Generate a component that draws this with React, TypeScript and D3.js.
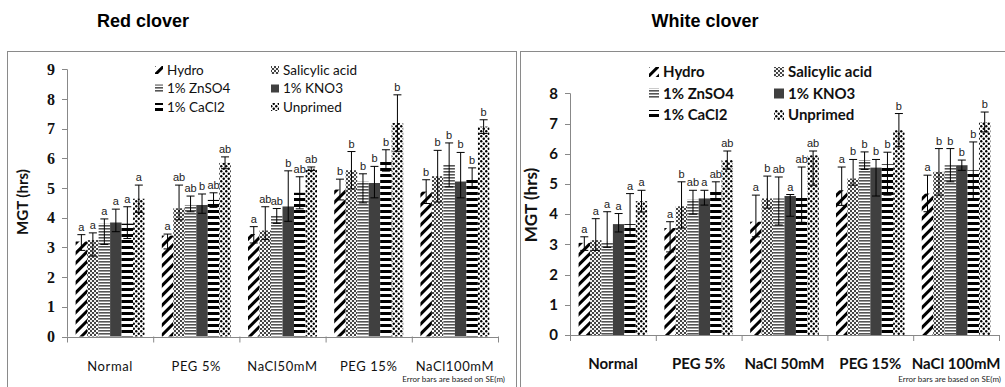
import React from "react";
import * as d3 from "d3";

const series = ["Hydro", "Salicylic acid", "1% ZnSO4", "1% KNO3", "1% CaCl2", "Unprimed"];
const patternIds = ["p-hydro", "p-sal", "p-zn", "p-kno3", "p-cacl2", "p-unp"];

// Red clover
const redCategories = ["Normal", "PEG 5%", "NaCl50mM", "PEG 15%", "NaCl100mM"];
const redHydro = [3.2, 3.4, 3.45, 4.95, 4.88];
const redSal = [3.25, 4.32, 3.57, 5.6, 5.4];
const redZn = [3.8, 4.43, 4.06, 5.22, 5.78];
const redKno3 = [3.84, 4.43, 4.38, 5.17, 5.22];
const redCacl2 = [3.8, 4.6, 4.84, 5.93, 5.35];
const redUnp = [4.64, 5.85, 5.65, 7.19, 7.07];
const redErrPlus = [
  [0.23, 0.05, 0.25, 0.35, 0.4],
  [0.24, 0.78, 0.8, 0.63, 0.87],
  [0.16, 0.3, 0.25, 0.26, 0.74],
  [0.45, 0.37, 1.2, 0.56, 0.98],
  [0.57, 0.24, 0.54, 0.36, 0.33],
  [0.46, 0.2, 0.06, 0.95, 0.23],
];
const redErrMinus = [
  [0.3, 0.45, 0.3, 0.35, 0.4],
  [0.54, 0.39, 0.3, 0.63, 0.87],
  [0.7, 0.23, 0.25, 0.72, 0.74],
  [0.31, 0.28, 0.5, 0.5, 0.55],
  [0.5, 0.25, 0.54, 0.36, 0.33],
  [0.46, 0.2, 0.06, 0.95, 0.23],
];
const redLetters = [
  ["a", "a", "a", "b", "b"],
  ["a", "ab", "ab", "b", "b"],
  ["a", "ab", "ab", "b", "b"],
  ["a", "b", "b", "b", "b"],
  ["a", "ab", "ab", "b", "b"],
  ["a", "ab", "ab", "b", "b"],
];
const redTicks = [0, 1, 2, 3, 4, 5, 6, 7, 8, 9];

// White clover
const whiteCategories = ["Normal", "PEG 5%", "NaCl 50mM", "PEG 15%", "NaCl 100mM"];
const whiteHydro = [3.05, 3.54, 3.75, 4.79, 4.68];
const whiteSal = [3.14, 4.26, 4.52, 5.18, 5.4];
const whiteZn = [3.08, 4.48, 4.52, 5.79, 5.62];
const whiteKno3 = [3.67, 4.52, 4.6, 5.54, 5.62];
const whiteCacl2 = [3.67, 4.76, 4.63, 5.65, 5.45];
const whiteUnp = [4.43, 5.79, 5.95, 6.78, 7.05];
const whiteErrPlus = [
  [0.2, 0.21, 0.88, 0.77, 0.61],
  [0.71, 0.81, 0.74, 0.63, 0.77],
  [1.0, 0.31, 0.71, 0.27, 0.55],
  [0.35, 0.27, 0.05, 0.27, 0.17],
  [1.01, 0.31, 0.93, 0.4, 0.94],
  [0.36, 0.3, 0.14, 0.55, 0.33],
];
const whiteErrMinus = [
  [0.25, 0.79, 0.5, 0.5, 0.6],
  [0.34, 0.72, 0.32, 0.22, 0.77],
  [0.18, 0.48, 0.88, 0.31, 0.55],
  [0.26, 0.22, 0.67, 0.94, 0.17],
  [0.37, 0.31, 0.9, 1.02, 0.94],
  [0.36, 0.3, 0.99, 0.55, 0.33],
];
const whiteLetters = [
  ["a", "a", "a", "a", "a"],
  ["a", "b", "b", "b", "b"],
  ["a", "ab", "ab", "b", "b"],
  ["a", "a", "a", "b", "b"],
  ["a", "ab", "ab", "b", "b"],
  ["a", "ab", "ab", "b", "b"],
];
const whiteTicks = [0, 1, 2, 3, 4, 5, 6, 7, 8];

const AXIS = "#888";

function Patterns() {
  return (
    <defs>
      <pattern id="p-hydro" width={7} height={7} patternUnits="userSpaceOnUse" patternTransform="rotate(45)">
        <rect width={7} height={7} fill="#fff" />
        <rect x={0} y={0} width={3} height={7} fill="#000" />
      </pattern>
      <pattern id="p-sal" width={4} height={4} patternUnits="userSpaceOnUse">
        <rect width={4} height={4} fill="#fff" />
        <rect x={0} y={0} width={2} height={2} fill="#444" />
        <rect x={2} y={2} width={2} height={2} fill="#444" />
        <rect x={2.5} y={0.5} width={1} height={1} fill="#aaa" />
      </pattern>
      <pattern id="p-zn" width={4} height={3} patternUnits="userSpaceOnUse">
        <rect width={4} height={3} fill="#fff" />
        <rect x={0} y={0} width={4} height={1.6} fill="#555" />
      </pattern>
      <pattern id="p-kno3" width={4} height={4} patternUnits="userSpaceOnUse">
        <rect width={4} height={4} fill="#404040" />
      </pattern>
      <pattern id="p-cacl2" width={4} height={6} patternUnits="userSpaceOnUse">
        <rect width={4} height={6} fill="#fff" />
        <rect x={0} y={0} width={4} height={3} fill="#000" />
      </pattern>
      <pattern id="p-unp" width={5} height={5} patternUnits="userSpaceOnUse">
        <rect width={5} height={5} fill="#fff" />
        <circle cx={1.25} cy={1.25} r={1.2} fill="#000" />
        <circle cx={3.75} cy={3.75} r={1.2} fill="#000" />
      </pattern>
    </defs>
  );
}

type ChartProps = {
  categories: string[];
  values: number[][];
  errPlus: number[][];
  errMinus: number[][];
  letters: string[][];
  ticks: number[];
  x0: number;
  x1: number;
  yBottom: number;
  yTop: number;
  yMax: number;
  bold: boolean;
  frameX: number;
  frameW: number;
  title: string;
  titleX: number;
  legendX1: number;
  legendX2: number;
  legendY: number;
  legendDy: number;
  legendFont: number;
  legendBox: number;
  yTitleX: number;
  yTitleY: number;
  footX: number;
};

function Chart(p: ChartProps) {
  const x = d3.scaleBand<string>().domain(p.categories).range([p.x0, p.x1]).padding(0);
  const bw = x.bandwidth();
  const xs = d3.scaleBand<string>().domain(series).range([bw * 0.1, bw * 0.9]).padding(0);
  const y = d3.scaleLinear().domain([0, p.yMax]).range([p.yBottom, p.yTop]);
  const sw = xs.bandwidth();
  const tickFont = p.bold ? "Lato, sans-serif" : "'Liberation Serif', serif";
  const catFont = "Lato, sans-serif";
  const legendItems = [
    { i: 0, col: 0, row: 0 },
    { i: 2, col: 0, row: 1 },
    { i: 4, col: 0, row: 2 },
    { i: 1, col: 1, row: 0 },
    { i: 3, col: 1, row: 1 },
    { i: 5, col: 1, row: 2 },
  ];
  const boundaries = p.categories.map((c) => x(c) as number).concat([p.x1]);
  return (
    <g>
      <rect x={p.frameX + 0.5} y={51.5} width={p.frameW} height={360} fill="none" stroke="#8a8a8a" strokeWidth={1} />
      <text x={p.titleX} y={27} textAnchor="middle" fontFamily="Arial, 'Liberation Sans', sans-serif" fontWeight="bold" fontSize={18}>
        {p.title}
      </text>
      {p.values.map((vals, si) =>
        p.categories.map((c, ci) => {
          const v = vals[ci];
          const bx = (x(c) as number) + (xs(series[si]) as number);
          return (
            <rect key={`b${si}-${ci}`} x={bx} y={y(v)} width={sw} height={y(0) - y(v)} fill={`url(#${patternIds[si]})`} />
          );
        })
      )}
      {p.values.map((vals, si) =>
        p.categories.map((c, ci) => {
          const v = vals[ci];
          const cx = (x(c) as number) + (xs(series[si]) as number) + sw / 2;
          const hi = v + p.errPlus[si][ci];
          const lo = v - p.errMinus[si][ci];
          return (
            <g key={`e${si}-${ci}`}>
              <line x1={cx} x2={cx} y1={y(hi)} y2={y(lo)} stroke="#000" strokeWidth={1} />
              <line x1={cx - 4} x2={cx + 4} y1={y(hi)} y2={y(hi)} stroke="#000" strokeWidth={1} />
              <line x1={cx - 4} x2={cx + 4} y1={y(lo)} y2={y(lo)} stroke="#000" strokeWidth={1} />
              <text x={cx} y={y(hi) - 4} textAnchor="middle" fontFamily="Arial, 'Liberation Sans', sans-serif" fontSize={11} fill="#222">
                {p.letters[si][ci]}
              </text>
            </g>
          );
        })
      )}
      <line x1={p.x0 + 0.5} x2={p.x0 + 0.5} y1={y(p.yMax)} y2={y(0)} stroke={AXIS} />
      {p.ticks.map((t) => (
        <g key={`t${t}`}>
          <line x1={p.x0 - 5} x2={p.x0} y1={Math.round(y(t)) + 0.5} y2={Math.round(y(t)) + 0.5} stroke={AXIS} />
          <text
            x={p.x0 - 12}
            y={y(t)}
            dy="0.35em"
            textAnchor="end"
            fontFamily={tickFont}
            fontWeight="bold"
            fontSize={p.bold ? 15 : 16}
            fill="#111"
          >
            {t}
          </text>
        </g>
      ))}
      <line x1={p.x0} x2={p.x1} y1={Math.round(y(0)) + 0.5} y2={Math.round(y(0)) + 0.5} stroke={AXIS} />
      {boundaries.map((bx, i) => (
        <line key={`xt${i}`} x1={bx + 0.5} x2={bx + 0.5} y1={y(0)} y2={y(0) + 6} stroke={AXIS} />
      ))}
      {p.categories.map((c) => (
        <text
          key={`c${c}`}
          x={(x(c) as number) + bw / 2}
          y={y(0) + 34}
          textAnchor="middle"
          fontFamily={catFont}
          fontWeight={p.bold ? "bold" : "normal"}
          fontSize={p.bold ? 15 : 13}
          letterSpacing={p.bold ? 0 : 0.6}
          fill="#111"
        >
          {c}
        </text>
      ))}
      <text x={p.footX} y={382} textAnchor="end" fontFamily={catFont} fontSize={8} fill="#222">
        Error bars are based on SE(m)
      </text>
      <text
        transform={`translate(${p.yTitleX},${p.yTitleY}) rotate(-90)`}
        textAnchor="middle"
        fontFamily={catFont}
        fontWeight="bold"
        fontSize={p.bold ? 17 : 15}
        fill="#111"
      >
        MGT (hrs)
      </text>
      {legendItems.map((it) => {
        const lx = it.col === 0 ? p.legendX1 : p.legendX2;
        const ly = p.legendY + it.row * p.legendDy;
        return (
          <g key={`l${it.i}`}>
            <rect x={lx} y={ly - p.legendBox / 2} width={p.legendBox} height={p.legendBox} fill={`url(#${patternIds[it.i]})`} />
            <text
              x={lx + p.legendBox + 4}
              y={ly}
              dy="0.35em"
              fontFamily={catFont}
              fontWeight={p.bold ? "bold" : "normal"}
              fontSize={p.legendFont}
              fill="#111"
            >
              {series[it.i]}
            </text>
          </g>
        );
      })}
    </g>
  );
}

export default function App() {
  const redValues = [redHydro, redSal, redZn, redKno3, redCacl2, redUnp];
  const whiteValues = [whiteHydro, whiteSal, whiteZn, whiteKno3, whiteCacl2, whiteUnp];
  return (
    <svg width={1005} height={387} style={{ position: "absolute", left: 0, top: 0, background: "#fff" }}>
      <Patterns />
      <rect width={1005} height={387} fill="#fff" />
      <Chart
        categories={redCategories}
        values={redValues}
        errPlus={redErrPlus}
        errMinus={redErrMinus}
        letters={redLetters}
        ticks={redTicks}
        x0={67}
        x1={498}
        yBottom={336.5}
        yTop={69.3}
        yMax={9}
        bold={false}
        frameX={7}
        frameW={509}
        title="Red clover"
        titleX={143}
        legendX1={155}
        legendX2={271}
        legendY={70}
        legendDy={18.5}
        legendFont={13.5}
        legendBox={8}
        yTitleX={28}
        yTitleY={202}
        footX={505}
      />
      <Chart
        categories={whiteCategories}
        values={whiteValues}
        errPlus={whiteErrPlus}
        errMinus={whiteErrMinus}
        letters={whiteLetters}
        ticks={whiteTicks}
        x0={570}
        x1={999}
        yBottom={335}
        yTop={93.3}
        yMax={8}
        bold={true}
        frameX={520}
        frameW={500}
        title="White clover"
        titleX={705}
        legendX1={649}
        legendX2={774}
        legendY={72}
        legendDy={21.5}
        legendFont={15}
        legendBox={10}
        yTitleX={537}
        yTitleY={205}
        footX={1001}
      />
    </svg>
  );
}
